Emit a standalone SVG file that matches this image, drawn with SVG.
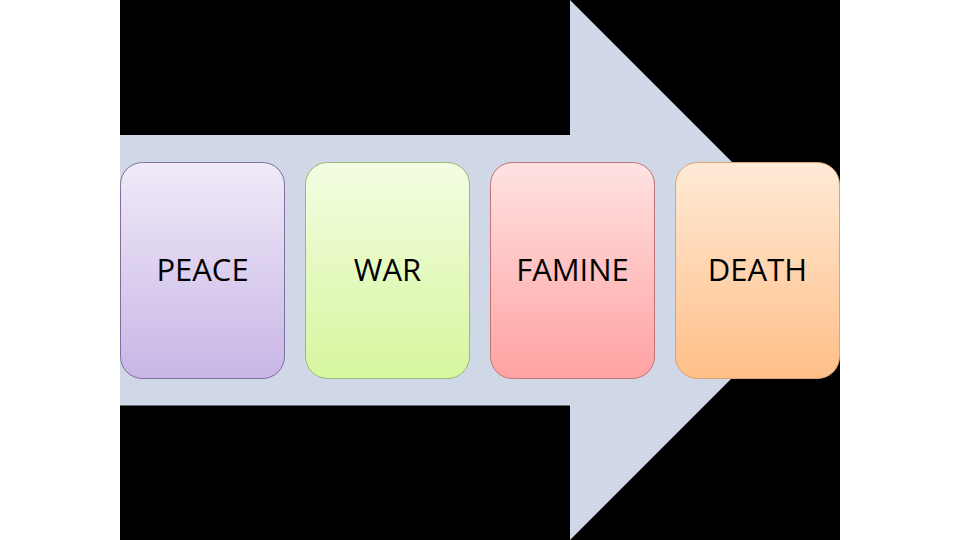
<svg xmlns="http://www.w3.org/2000/svg" width="960" height="540" viewBox="0 0 960 540">
<style>
.lbl{font-family:"Open Sans","Liberation Sans",sans-serif;font-size:31px;fill:#000;text-anchor:middle}
.box{stroke-width:1}
</style>
<defs>
<linearGradient id="gP" x1="0" y1="0" x2="0" y2="1"><stop offset="0" stop-color="#F0EAF8"/><stop offset="1" stop-color="#C8B6E6"/></linearGradient>
<linearGradient id="gW" x1="0" y1="0" x2="0" y2="1"><stop offset="0" stop-color="#F3FDE2"/><stop offset="1" stop-color="#D7F69E"/></linearGradient>
<linearGradient id="gF" x1="0" y1="0" x2="0" y2="1"><stop offset="0" stop-color="#FFE2E2"/><stop offset="1" stop-color="#FFA2A2"/></linearGradient>
<linearGradient id="gD" x1="0" y1="0" x2="0" y2="1"><stop offset="0" stop-color="#FFEAD6"/><stop offset="1" stop-color="#FFBF88"/></linearGradient>
</defs>
<rect width="960" height="540" fill="#fff"/>
<rect x="120" y="0" width="720" height="540" fill="#000"/>
<g id="arrow">
<polygon points="120,135 570,135 570,0 840,270 570,540 570,405.5 120,405.5" fill="#D0D8E7"/>
</g>
<g id="connectors"></g>
<g id="peace">
<rect class="box" x="120.5" y="162.5" width="164" height="216" rx="22" fill="url(#gP)" stroke="#7F6F9F"/>
<text class="lbl" x="202.5" y="281">PEACE</text>
</g>
<g id="war">
<rect class="box" x="305.5" y="162.5" width="164" height="216" rx="22" fill="url(#gW)" stroke="#9BB77B"/>
<text class="lbl" x="387.5" y="281">WAR</text>
</g>
<g id="famine">
<rect class="box" x="490.5" y="162.5" width="164" height="216" rx="22" fill="url(#gF)" stroke="#C27474"/>
<text class="lbl" x="572.5" y="281">FAMINE</text>
</g>
<g id="death">
<rect class="box" x="675.5" y="162.5" width="164" height="216" rx="22" fill="url(#gD)" stroke="#D9A476"/>
<text class="lbl" x="757.5" y="281">DEATH</text>
</g>
</svg>
